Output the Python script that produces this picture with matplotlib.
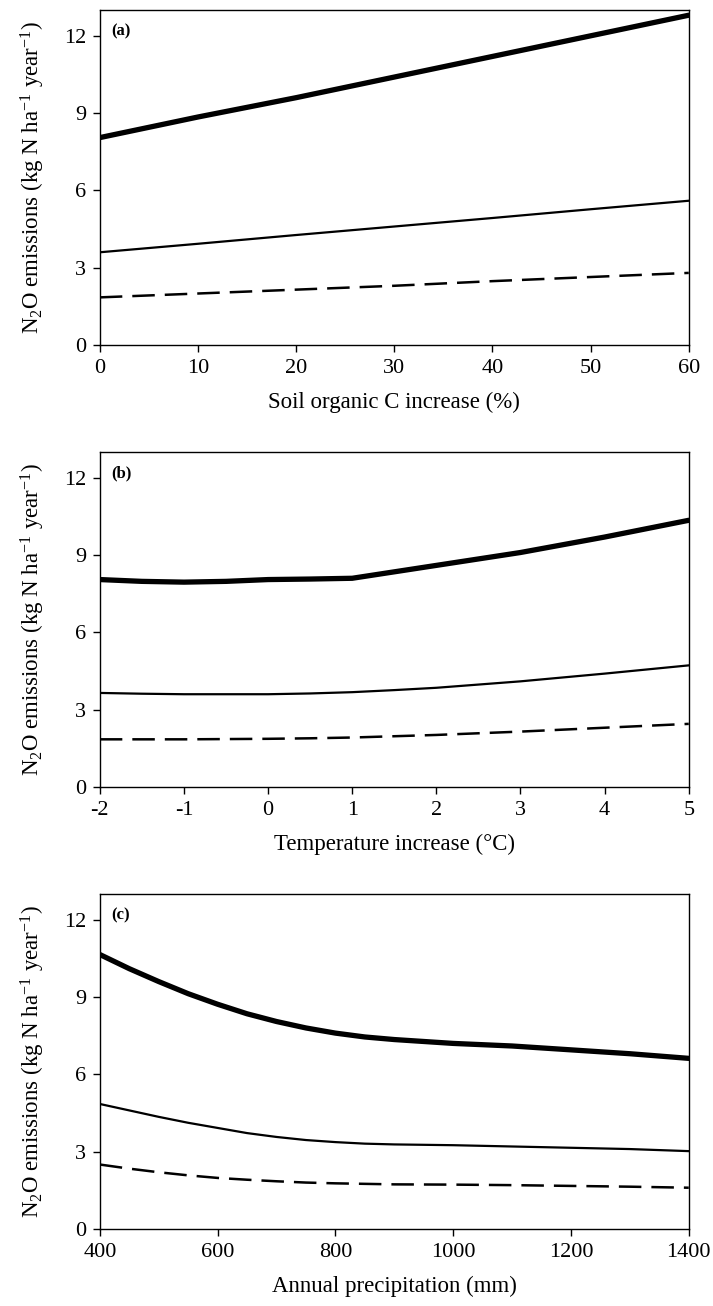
import matplotlib
matplotlib.use("Agg")
import matplotlib.pyplot as plt

plt.rcParams["font.family"] = ["Liberation Serif", "DejaVu Serif"]
plt.rcParams["mathtext.fontset"] = "custom"
plt.rcParams["mathtext.rm"] = "Liberation Serif"
plt.rcParams["mathtext.it"] = "Liberation Serif:italic"
plt.rcParams["mathtext.bf"] = "Liberation Serif:bold"
plt.rcParams["axes.unicode_minus"] = False

# (a) soil organic C increase
soc_x = [0, 10, 20, 30, 40, 50, 60]
soc_high = [8.05, 8.85, 9.6, 10.4, 11.2, 12.0, 12.8]
soc_mid = [3.6, 3.93, 4.27, 4.6, 4.93, 5.27, 5.6]
soc_low = [1.85, 2.0, 2.15, 2.3, 2.48, 2.64, 2.8]

# (b) temperature increase
temp_x = [-2, -1.5, -1, -0.5, 0, 0.5, 1, 1.5, 2, 3, 4, 5]
temp_high = [8.05, 7.98, 7.95, 7.98, 8.05, 8.07, 8.1, 8.35, 8.6, 9.1, 9.7, 10.35]
temp_mid = [3.65, 3.62, 3.6, 3.6, 3.6, 3.63, 3.68, 3.76, 3.85, 4.1, 4.4, 4.72]
temp_low = [1.85, 1.85, 1.85, 1.86, 1.87, 1.89, 1.92, 1.97, 2.02, 2.15, 2.3, 2.45]

# (c) annual precipitation
prec_x = [400, 450, 500, 550, 600, 650, 700, 750, 800, 850, 900, 1000, 1100, 1200, 1300, 1400]
prec_high = [10.65, 10.1, 9.6, 9.13, 8.72, 8.35, 8.05, 7.8, 7.6, 7.45, 7.35, 7.2, 7.1, 6.95, 6.8, 6.62]
prec_mid = [4.85, 4.6, 4.35, 4.12, 3.92, 3.72, 3.57, 3.45, 3.37, 3.31, 3.28, 3.25, 3.2, 3.15, 3.1, 3.02]
prec_low = [2.5, 2.34, 2.2, 2.08, 1.98, 1.91, 1.85, 1.8, 1.77, 1.75, 1.73, 1.72, 1.7, 1.67, 1.64, 1.6]

panels = [
    ("(a)", "Soil organic C increase (%)", soc_x, soc_high, soc_mid, soc_low,
     [0, 10, 20, 30, 40, 50, 60], (0, 60)),
    ("(b)", "Temperature increase (\u00b0C)", temp_x, temp_high, temp_mid, temp_low,
     [-2, -1, 0, 1, 2, 3, 4, 5], (-2, 5)),
    ("(c)", "Annual precipitation (mm)", prec_x, prec_high, prec_mid, prec_low,
     [400, 600, 800, 1000, 1200, 1400], (400, 1400)),
]

fig = plt.figure(figsize=(7.13, 13.06), dpi=100)
left, width = 0.140, 0.826
bottoms = [0.7358, 0.3974, 0.0590]
height = 0.2565

ylabel = "N$_2$O emissions (kg N ha$^{-1}$ year$^{-1}$)"

for (tag, xlab, x, hi, mid, lo, xt, xl), b in zip(panels, bottoms):
    ax = fig.add_axes([left, b, width, height])
    ax.plot(x, hi, color="black", lw=3.8, solid_capstyle="round", solid_joinstyle="round")
    ax.plot(x, mid, color="black", lw=1.6)
    ax.plot(x, lo, color="black", lw=1.8, dashes=(9, 4))
    ax.set_xlim(*xl)
    ax.set_ylim(0, 13)
    ax.set_xticks(xt)
    ax.set_yticks([0, 3, 6, 9, 12])
    ax.tick_params(direction="out", length=5, width=1, labelsize=16, pad=5)
    for s in ax.spines.values():
        s.set_linewidth(1)
    ax.set_xlabel(xlab, fontsize=16.5, labelpad=10)
    ax.set_ylabel(ylabel, fontsize=16.5, labelpad=12)
    ax.text(0.02, 0.96, tag, transform=ax.transAxes, fontsize=12,
            fontweight="bold", va="top", ha="left")

fig.savefig("out.png", dpi=100)
